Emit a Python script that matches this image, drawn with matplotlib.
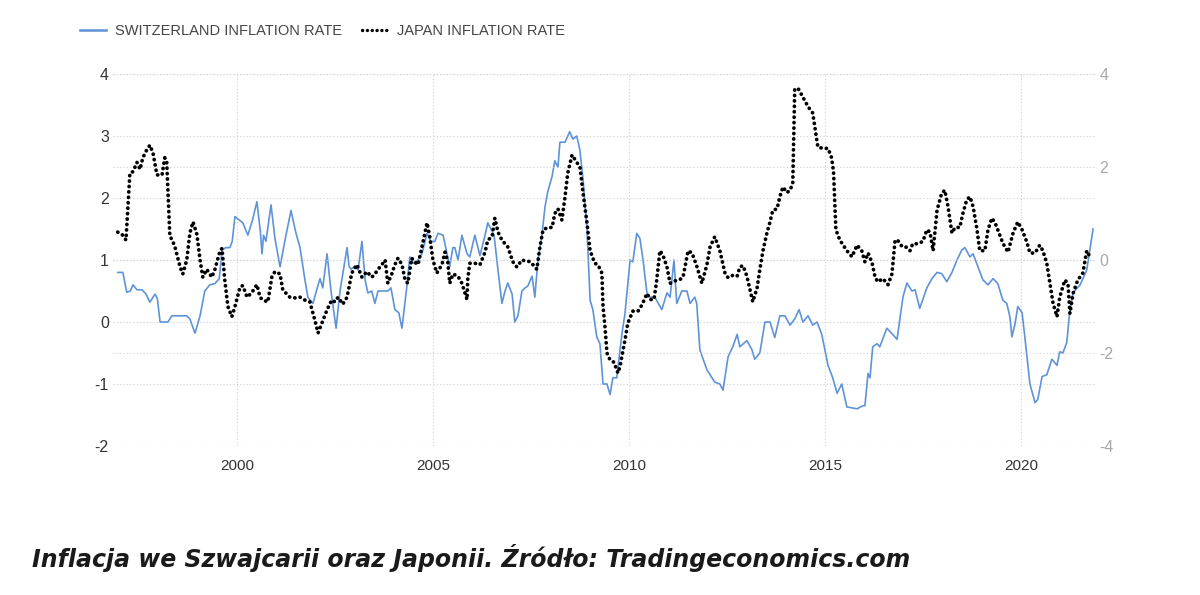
import matplotlib
matplotlib.use('Agg')
import matplotlib.pyplot as plt
from matplotlib.lines import Line2D

plt.rcParams['axes.unicode_minus'] = False

# Switzerland inflation rate (left axis), decimal year / percent
swiss_t = [1996.96, 1997.09, 1997.19, 1997.28, 1997.35, 1997.45, 1997.58, 1997.68, 1997.78, 1997.91,
           1997.97, 1998.04, 1998.24, 1998.34, 1998.72, 1998.80, 1998.93, 1999.06, 1999.18, 1999.31,
           1999.44, 1999.55, 1999.62, 1999.72, 1999.82, 1999.88, 1999.95, 2000.05, 2000.15, 2000.28,
           2000.40, 2000.51, 2000.60, 2000.64, 2000.68, 2000.74, 2000.87, 2000.97, 2001.10, 2001.22,
           2001.38, 2001.50, 2001.61, 2001.73, 2001.81, 2001.94, 2002.05, 2002.12, 2002.19, 2002.30,
           2002.40, 2002.53, 2002.63, 2002.81, 2002.86, 2002.91, 2003.01, 2003.09, 2003.19, 2003.27,
           2003.34, 2003.44, 2003.52, 2003.60, 2003.70, 2003.85, 2003.93, 2004.03, 2004.13, 2004.21,
           2004.34, 2004.41, 2004.49, 2004.62, 2004.72, 2004.85, 2004.95, 2005.05, 2005.13, 2005.26,
           2005.36, 2005.43, 2005.51, 2005.56, 2005.64, 2005.74, 2005.87, 2005.94, 2006.07, 2006.20,
           2006.33, 2006.40, 2006.48, 2006.56, 2006.66, 2006.76, 2006.84, 2006.91, 2007.02, 2007.09,
           2007.17, 2007.27, 2007.35, 2007.42, 2007.53, 2007.60, 2007.68, 2007.78, 2007.86, 2007.93,
           2008.04, 2008.11, 2008.19, 2008.24, 2008.37, 2008.49, 2008.57, 2008.67, 2008.75, 2008.83,
           2008.93, 2009.01, 2009.08, 2009.18, 2009.26, 2009.34, 2009.39, 2009.44, 2009.52, 2009.59,
           2009.69, 2009.82, 2009.90, 2010.03, 2010.10, 2010.20, 2010.28, 2010.36, 2010.46, 2010.54,
           2010.66, 2010.84, 2010.97, 2011.05, 2011.15, 2011.22, 2011.35, 2011.48, 2011.56, 2011.68,
           2011.73, 2011.81, 2011.99, 2012.19, 2012.32, 2012.40, 2012.53, 2012.65, 2012.76, 2012.83,
           2013.01, 2013.14, 2013.21, 2013.34, 2013.47, 2013.60, 2013.72, 2013.85, 2013.98, 2014.11,
           2014.23, 2014.34, 2014.44, 2014.57, 2014.69, 2014.80, 2014.92, 2015.08, 2015.20, 2015.31,
           2015.43, 2015.56, 2015.82, 2015.97, 2016.02, 2016.10, 2016.15, 2016.22, 2016.33, 2016.40,
           2016.58, 2016.73, 2016.84, 2016.99, 2017.09, 2017.22, 2017.30, 2017.42, 2017.60, 2017.73,
           2017.86, 2017.98, 2018.11, 2018.24, 2018.37, 2018.49, 2018.57, 2018.70, 2018.78, 2018.90,
           2019.03, 2019.16, 2019.29, 2019.41, 2019.54, 2019.64, 2019.72, 2019.77, 2019.85, 2019.92,
           2020.03, 2020.10, 2020.23, 2020.36, 2020.43, 2020.54, 2020.66, 2020.79, 2020.92, 2020.99,
           2021.07, 2021.17, 2021.25, 2021.33, 2021.51, 2021.68, 2021.84]
swiss_v = [0.8, 0.8, 0.48, 0.5, 0.6, 0.52, 0.52, 0.45, 0.32, 0.45,
           0.38, 0.0, 0.0, 0.1, 0.1, 0.05, -0.18, 0.1, 0.5, 0.6,
           0.62, 0.7, 1.16, 1.2, 1.2, 1.3, 1.7, 1.65, 1.6, 1.4,
           1.65, 1.94, 1.45, 1.1, 1.4, 1.3, 1.89, 1.35, 0.89, 1.3,
           1.8, 1.45, 1.2, 0.7, 0.4, 0.3, 0.55, 0.7, 0.55, 1.1,
           0.5, -0.1, 0.5, 1.2, 0.9, 0.85, 0.9, 0.84, 1.3, 0.68,
           0.47, 0.5, 0.3, 0.5, 0.5, 0.5, 0.55, 0.2, 0.15, -0.1,
           0.6, 1.05, 0.95, 1.0, 1.1, 1.43, 1.3, 1.3, 1.43, 1.4,
           1.1, 0.9, 1.2, 1.2, 1.0, 1.4, 1.1, 1.05, 1.4, 1.07,
           1.4, 1.6, 1.5, 1.4, 0.84, 0.3, 0.5, 0.63, 0.45, 0.0,
           0.1, 0.5, 0.55, 0.58, 0.74, 0.4, 1.0, 1.4, 1.86, 2.1,
           2.35, 2.6, 2.5, 2.9, 2.9, 3.07, 2.95, 3.0, 2.77, 2.3,
           1.5, 0.35, 0.2, -0.24, -0.35, -1.0, -1.0, -1.0, -1.17, -0.9,
           -0.9, -0.2, 0.14, 1.0, 0.97, 1.43, 1.35, 1.0, 0.47, 0.4,
           0.4, 0.2, 0.47, 0.4, 1.0, 0.3, 0.5, 0.5, 0.3, 0.4,
           0.3, -0.45, -0.77, -0.97, -1.0, -1.1, -0.56, -0.4, -0.2, -0.4,
           -0.3, -0.45, -0.6, -0.5, 0.0, 0.0, -0.25, 0.1, 0.1, -0.05,
           0.05, 0.2, 0.0, 0.1, -0.05, 0.0, -0.2, -0.7, -0.9, -1.15,
           -1.0, -1.37, -1.4, -1.35, -1.35, -0.83, -0.9, -0.4, -0.35, -0.4,
           -0.1, -0.2, -0.28, 0.4, 0.63, 0.5, 0.52, 0.22, 0.55, 0.7,
           0.8, 0.78, 0.65, 0.8, 1.0, 1.16, 1.2, 1.05, 1.1, 0.9,
           0.68, 0.6, 0.7, 0.62, 0.35, 0.3, 0.08, -0.24, -0.03, 0.25,
           0.15, -0.24, -1.0, -1.3, -1.25, -0.88, -0.85, -0.6, -0.7, -0.48,
           -0.5, -0.33, 0.2, 0.47, 0.6, 0.84, 1.5]

# Japan inflation rate (right axis)
japan_t = [1996.96, 1997.07, 1997.17, 1997.27, 1997.35, 1997.45, 1997.53, 1997.60, 1997.70, 1997.78,
           1997.86, 1997.96, 1998.09, 1998.16, 1998.21, 1998.29, 1998.34, 1998.42, 1998.55, 1998.62,
           1998.72, 1998.80, 1998.88, 1998.98, 1999.06, 1999.13, 1999.23, 1999.36, 1999.44, 1999.57,
           1999.62, 1999.69, 1999.77, 1999.87, 1999.95, 2000.08, 2000.15, 2000.26, 2000.38, 2000.51,
           2000.59, 2000.66, 2000.79, 2000.89, 2000.97, 2001.10, 2001.17, 2001.35, 2001.53, 2001.61,
           2001.73, 2001.86, 2001.99, 2002.07, 2002.17, 2002.30, 2002.42, 2002.50, 2002.58, 2002.70,
           2002.81, 2002.93, 2003.06, 2003.19, 2003.32, 2003.44, 2003.52, 2003.60, 2003.70, 2003.78,
           2003.85, 2003.95, 2004.03, 2004.11, 2004.21, 2004.29, 2004.36, 2004.46, 2004.54, 2004.62,
           2004.74, 2004.85, 2004.92, 2005.00, 2005.10, 2005.23, 2005.31, 2005.38, 2005.43, 2005.51,
           2005.64, 2005.74, 2005.82, 2005.87, 2005.89, 2005.94, 2006.07, 2006.20, 2006.33, 2006.40,
           2006.51, 2006.58, 2006.66, 2006.76, 2006.91, 2007.04, 2007.14, 2007.27, 2007.40, 2007.47,
           2007.55, 2007.65, 2007.73, 2007.81, 2007.93, 2008.04, 2008.11, 2008.19, 2008.29, 2008.37,
           2008.44, 2008.55, 2008.67, 2008.75, 2008.83, 2008.93, 2009.01, 2009.13, 2009.21, 2009.31,
           2009.34, 2009.39, 2009.44, 2009.52, 2009.62, 2009.72, 2009.77, 2009.90, 2009.97, 2010.10,
           2010.23, 2010.33, 2010.46, 2010.54, 2010.64, 2010.71, 2010.79, 2010.87, 2010.97, 2011.05,
           2011.17, 2011.30, 2011.38, 2011.51, 2011.61, 2011.73, 2011.86, 2011.99, 2012.07, 2012.19,
           2012.32, 2012.45, 2012.53, 2012.65, 2012.76, 2012.83, 2012.91, 2013.01, 2013.09, 2013.16,
           2013.27, 2013.34, 2013.42, 2013.52, 2013.60, 2013.67, 2013.78, 2013.85, 2013.93, 2014.03,
           2014.11, 2014.18, 2014.23, 2014.31, 2014.44, 2014.57, 2014.69, 2014.82, 2014.95, 2015.08,
           2015.17, 2015.22, 2015.28, 2015.38, 2015.56, 2015.69, 2015.82, 2015.94, 2016.02, 2016.10,
           2016.20, 2016.28, 2016.35, 2016.48, 2016.61, 2016.71, 2016.79, 2016.86, 2016.96, 2017.04,
           2017.17, 2017.24, 2017.37, 2017.50, 2017.60, 2017.68, 2017.76, 2017.86, 2017.98, 2018.06,
           2018.14, 2018.24, 2018.32, 2018.44, 2018.52, 2018.62, 2018.70, 2018.78, 2018.88, 2018.95,
           2019.08, 2019.16, 2019.26, 2019.34, 2019.41, 2019.54, 2019.67, 2019.80, 2019.92, 2020.03,
           2020.15, 2020.23, 2020.36, 2020.48, 2020.56, 2020.66, 2020.74, 2020.82, 2020.92, 2020.99,
           2021.12, 2021.20, 2021.25, 2021.33, 2021.45, 2021.58, 2021.68, 2021.76]
japan_v = [0.6, 0.55, 0.43, 1.87, 1.9, 2.1, 1.95, 2.2, 2.37, 2.47,
           2.3, 1.83, 1.83, 2.2, 2.1, 0.5, 0.45, 0.28, -0.15, -0.3,
           0.0, 0.58, 0.82, 0.55, 0.0, -0.37, -0.2, -0.37, -0.2, 0.2,
           0.25, -0.43, -1.0, -1.22, -1.0, -0.58, -0.55, -0.8, -0.7, -0.53,
           -0.8, -0.86, -0.9, -0.37, -0.25, -0.3, -0.64, -0.8, -0.82, -0.8,
           -0.86, -0.9, -1.3, -1.57, -1.35, -1.07, -0.86, -0.9, -0.8, -0.95,
           -0.8, -0.28, -0.1, -0.37, -0.25, -0.37, -0.3, -0.2, -0.1, 0.0,
           -0.5, -0.3, -0.1, 0.04, -0.1, -0.43, -0.5, 0.04, -0.05, -0.1,
           0.36, 0.8, 0.5, 0.0, -0.28, -0.1, 0.17, -0.05, -0.5, -0.3,
           -0.35, -0.5, -0.72, -0.85, -0.4, -0.07, -0.07, -0.1, 0.17, 0.43,
           0.5, 0.9, 0.6, 0.43, 0.28, -0.04, -0.15, 0.0, -0.03, -0.03,
           -0.1, -0.2, 0.28, 0.65, 0.7, 0.7, 1.0, 1.1, 0.86, 1.36,
           1.87, 2.26, 2.1, 2.0, 1.44, 0.8, 0.2, -0.07, -0.1, -0.28,
           -1.0, -1.44, -2.0, -2.15, -2.2, -2.43, -2.3, -1.72, -1.36, -1.1,
           -1.1, -0.97, -0.72, -0.85, -0.85, -0.43, 0.2, 0.1, -0.15, -0.5,
           -0.45, -0.42, -0.37, 0.2, 0.15, -0.13, -0.5, -0.1, 0.28, 0.5,
           0.2, -0.28, -0.38, -0.33, -0.35, -0.15, -0.12, -0.35, -0.64, -0.9,
           -0.6, -0.2, 0.2, 0.58, 0.82, 1.07, 1.1, 1.36, 1.57, 1.45,
           1.5, 1.65, 3.66, 3.7, 3.5, 3.3, 3.16, 2.43, 2.4, 2.4,
           2.2, 1.9, 0.65, 0.43, 0.2, 0.07, 0.32, 0.2, -0.04, 0.15,
           -0.05, -0.37, -0.47, -0.4, -0.53, -0.3, 0.43, 0.42, 0.3, 0.3,
           0.2, 0.35, 0.35, 0.4, 0.65, 0.6, 0.2, 1.07, 1.44, 1.5,
           1.15, 0.58, 0.7, 0.7, 1.0, 1.3, 1.36, 1.15, 0.65, 0.2,
           0.2, 0.65, 0.9, 0.8, 0.65, 0.36, 0.17, 0.58, 0.82, 0.65,
           0.39, 0.15, 0.15, 0.32, 0.2, -0.07, -0.5, -0.93, -1.22, -0.8,
           -0.43, -0.5, -1.15, -0.72, -0.43, -0.28, 0.2, 0.07]

year_ticks = [2000, 2005, 2010, 2015, 2020]
left_ticks = [-2, -1, 0, 1, 2, 3, 4]
right_ticks = [-4, -2, 0, 2, 4]
labels = ['SWITZERLAND INFLATION RATE', 'JAPAN INFLATION RATE']
caption = 'Inflacja we Szwajcarii oraz Japonii. Źródło: Tradingeconomics.com'

blue = '#5f93d8'
grid_kw = dict(color='#cfcfcf', linestyle=(0, (1, 2)), linewidth=0.8)
tick_font = ['Liberation Sans Narrow', 'Liberation Sans', 'DejaVu Sans']

fig = plt.figure(figsize=(12, 5.95), dpi=100)
fig.patch.set_facecolor('white')

ax = fig.add_axes([0.0942, 0.2504, 0.8183, 0.6252])
ax2 = ax.twinx()

ax.plot(swiss_t, swiss_v, color=blue, linewidth=1.2, zorder=3)
ax2.plot(japan_t, japan_v, color='black', linewidth=2.7,
         linestyle=(0, (0.05, 1.4)), dash_capstyle='round', zorder=3)

ax.set_xlim(1996.84, 2021.89)
ax.set_ylim(-2, 4)
ax2.set_ylim(-4, 4)
ax.set_xticks(year_ticks)
ax.set_yticks(left_ticks)
ax2.set_yticks(right_ticks)

ax.grid(True, **grid_kw)
ax2.grid(True, axis='y', **grid_kw)
ax.set_axisbelow(True)
ax2.set_axisbelow(True)

for a in (ax, ax2):
    for s in a.spines.values():
        s.set_visible(False)
    a.tick_params(length=0)

ax.tick_params(axis='x', pad=9, labelsize=11, labelcolor='#333333')
ax.tick_params(axis='y', pad=3, labelsize=11.5, labelcolor='#333333')
ax2.tick_params(axis='y', pad=3, labelsize=11.5, labelcolor='#a8a8a8')
for lab in ax.get_xticklabels() + ax.get_yticklabels() + ax2.get_yticklabels():
    lab.set_family(tick_font)

handles = [Line2D([], [], color=blue, linewidth=1.8),
           Line2D([], [], color='black', linewidth=2.4, linestyle=(0, (0.05, 1.4)),
                  dash_capstyle='round')]
leg = fig.legend(handles, labels, loc='center left', bbox_to_anchor=(80 / 1200, 1 - 31 / 595),
                 ncol=2, frameon=False, handlelength=1.8, handletextpad=0.6,
                 columnspacing=1.35, borderpad=0, borderaxespad=0,
                 prop={'family': ['Liberation Sans', 'DejaVu Sans'], 'size': 10.5})
for t in leg.get_texts():
    t.set_color('#444444')

fig.text(32 / 1200, 1 - 558 / 595, caption, ha='left', va='center',
         fontsize=17, fontweight='bold', fontstyle='italic', color='#1a1a1a',
         family=['DejaVu Sans'])

fig.savefig('out.png', dpi=100, facecolor='white')
